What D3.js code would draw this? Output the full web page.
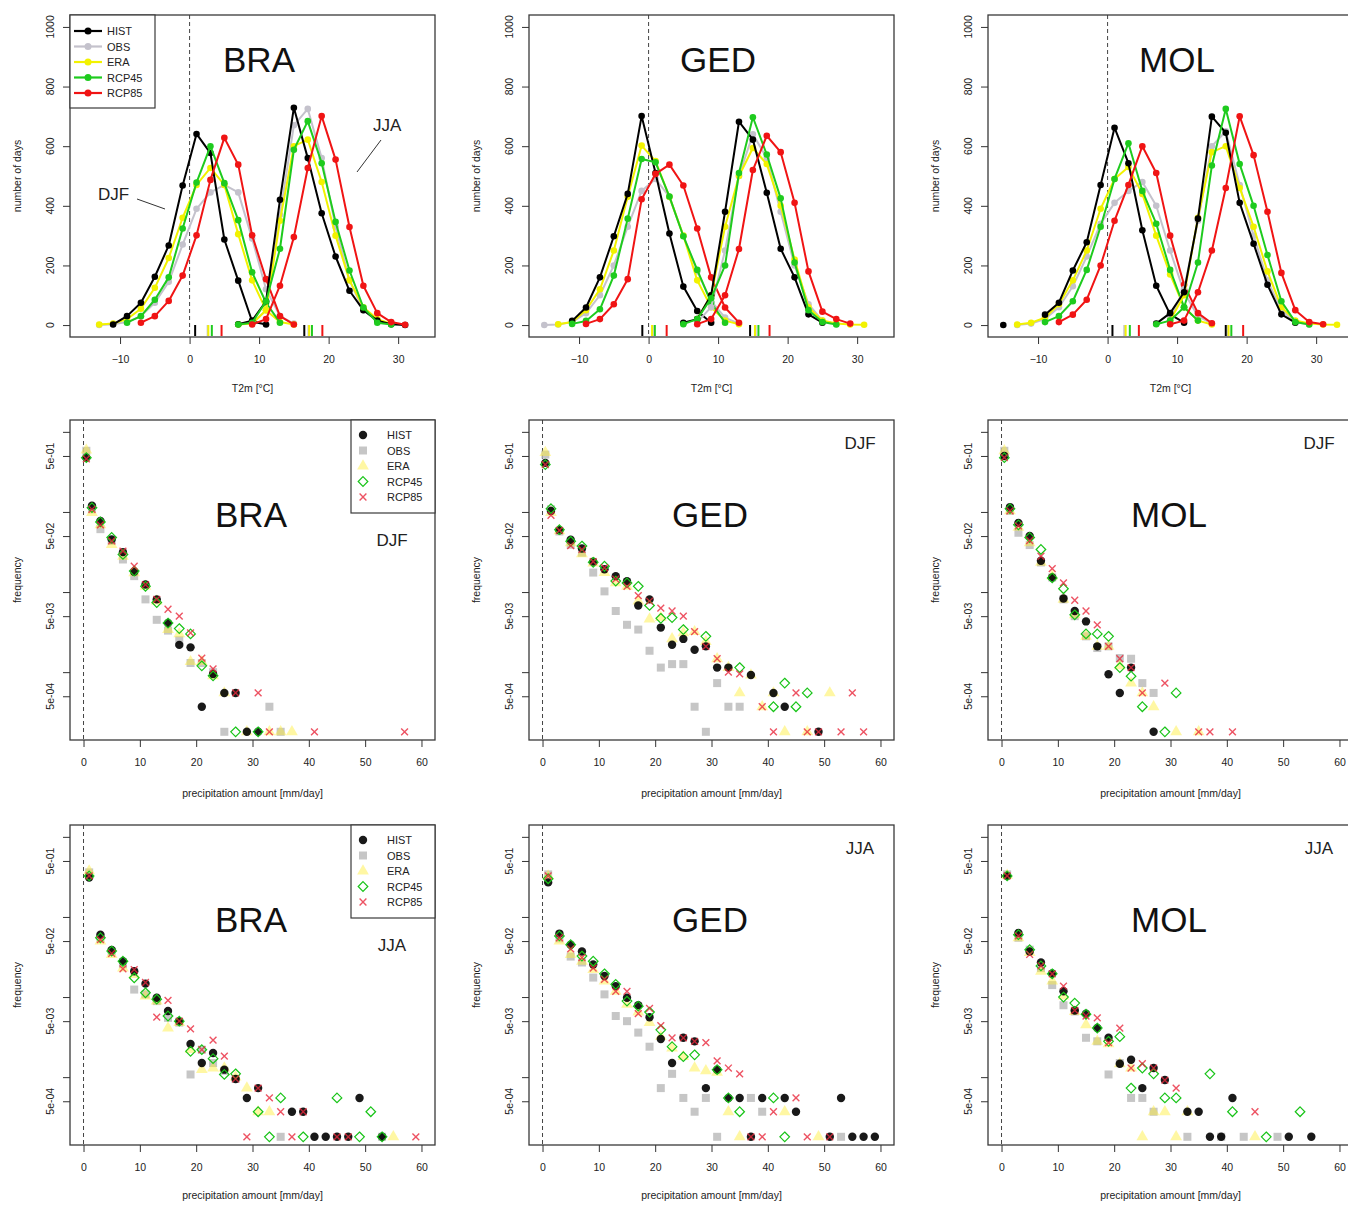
<!DOCTYPE html>
<html>
<head>
<meta charset="utf-8">
<script src="https://cdn.jsdelivr.net/npm/d3@7"></script>
<style>
  html, body { margin: 0; padding: 0; background: #fff; }
  svg { display: block; font-family: "Liberation Sans", Arial, Helvetica, sans-serif; }
</style>
</head>
<body>
<svg id="fig" width="1348" height="1205"></svg>
<script>
// ---------------------------------------------------------------------------
// Data
// ---------------------------------------------------------------------------
const SITES = ["BRA", "GED", "MOL"];
const SEASONS = ["DJF", "JJA"];
const SERIES = ["HIST", "OBS", "ERA", "RCP45", "RCP85"];

const T_TICKS = [-10, 0, 10, 20, 30];
const DAYS_TICKS = [0, 200, 400, 600, 800, 1000];
const P_TICKS = [0, 10, 20, 30, 40, 50, 60];
const FREQ_TICKS = [1, 0.5, 0.1, 0.05, 0.01, 0.005, 0.001, 0.0005];
const FREQ_LABELS = ["", "5e-01", "", "5e-02", "", "5e-03", "", "5e-04"];

// Daily mean 2 m temperature histograms: [bin centre (°C), number of days]
const BRA_DJF_HIST  = [[-11,2],[-9,30],[-7,75],[-5,162],[-3,267],[-1,468],[1,641],[3,577],[5,287],[7,149],[9,12],[11,2]];
const BRA_DJF_OBS   = [[-13,0],[-11,3],[-9,10],[-7,30],[-5,75],[-3,145],[-1,270],[1,390],[3,445],[5,470],[7,445],[9,290],[11,120],[13,30],[15,5]];
const BRA_DJF_ERA   = [[-13,2],[-11,5],[-9,20],[-7,55],[-5,125],[-3,225],[-1,360],[1,470],[3,527],[5,470],[7,305],[9,150],[11,50],[13,10],[15,2]];
const BRA_DJF_RCP45 = [[-9,8],[-7,30],[-5,85],[-3,160],[-1,324],[1,478],[3,600],[5,476],[7,352],[9,177],[11,75],[13,8]];
const BRA_DJF_RCP85 = [[-7,8],[-5,30],[-3,81],[-1,166],[1,301],[3,487],[5,628],[7,538],[9,301],[11,154],[13,30],[15,2]];
const BRA_JJA_HIST  = [[7,3],[9,15],[11,80],[13,420],[15,729],[17,560],[19,375],[21,230],[23,115],[25,50],[27,15],[29,3],[31,0]];
const BRA_JJA_OBS   = [[9,5],[11,50],[13,370],[15,670],[17,725],[19,560],[21,330],[23,150],[25,50],[27,15],[29,3]];
const BRA_JJA_ERA   = [[7,2],[9,5],[11,50],[13,350],[15,600],[17,622],[19,480],[21,300],[23,150],[25,60],[27,20],[29,5]];
const BRA_JJA_RCP45 = [[7,2],[9,8],[11,80],[13,256],[15,588],[17,684],[19,543],[21,346],[23,183],[25,59],[27,8],[29,2]];
const BRA_JJA_RCP85 = [[9,2],[11,20],[13,132],[15,295],[17,527],[19,701],[21,555],[23,329],[25,132],[27,40],[29,10],[31,1]];

const GED_DJF_HIST  = [[-11,14],[-9,59],[-7,160],[-5,298],[-3,440],[-1,701],[1,510],[3,307],[5,129],[7,47],[9,8]];
const GED_DJF_OBS   = [[-15,0],[-13,2],[-11,10],[-9,40],[-7,100],[-5,200],[-3,330],[-1,450],[1,490],[3,430],[5,300],[7,180],[9,80],[11,25],[13,5]];
const GED_DJF_ERA   = [[-13,3],[-11,10],[-9,50],[-7,120],[-5,250],[-3,430],[-1,602],[1,550],[3,430],[5,300],[7,150],[9,60],[11,15],[13,3]];
const GED_DJF_RCP45 = [[-11,4],[-9,14],[-7,53],[-5,166],[-3,357],[-1,557],[1,546],[3,431],[5,298],[7,185],[9,75],[11,8]];
const GED_DJF_RCP85 = [[-9,4],[-7,20],[-5,70],[-3,154],[-1,422],[1,507],[3,538],[5,468],[7,324],[9,160],[11,59],[13,8]];
const GED_JJA_HIST  = [[5,8],[7,20],[9,100],[11,380],[13,682],[15,622],[17,444],[19,256],[21,160],[23,36],[25,8]];
const GED_JJA_OBS   = [[7,10],[9,60],[11,250],[13,500],[15,640],[17,560],[19,380],[21,200],[23,70],[25,15],[27,3]];
const GED_JJA_ERA   = [[7,20],[9,100],[11,330],[13,500],[15,594],[17,540],[19,400],[21,220],[23,60],[25,15],[27,5],[29,2],[31,1]];
const GED_JJA_RCP45 = [[5,3],[7,20],[9,90],[11,200],[13,510],[15,697],[17,572],[19,425],[21,210],[23,50],[25,10],[27,2]];
const GED_JJA_RCP85 = [[7,3],[9,20],[11,100],[13,255],[15,520],[17,635],[19,580],[21,410],[23,180],[25,45],[27,20],[29,5]];

const MOL_DJF_HIST  = [[-15,0],[-13,null],[-9,35],[-7,75],[-5,183],[-3,278],[-1,470],[1,662],[3,543],[5,318],[7,132],[9,36],[11,8]];
const MOL_DJF_OBS   = [[-13,0],[-11,5],[-9,20],[-7,60],[-5,130],[-3,230],[-1,340],[1,410],[3,450],[5,480],[7,400],[9,250],[11,110],[13,30],[15,5]];
const MOL_DJF_ERA   = [[-13,2],[-11,8],[-9,25],[-7,70],[-5,150],[-3,250],[-1,390],[1,490],[3,530],[5,440],[7,300],[9,170],[11,60],[13,15],[15,2]];
const MOL_DJF_RCP45 = [[-9,10],[-7,30],[-5,80],[-3,185],[-1,330],[1,490],[3,610],[5,450],[7,340],[9,185],[11,60],[13,15]];
const MOL_DJF_RCP85 = [[-7,10],[-5,35],[-3,85],[-1,200],[1,350],[3,470],[5,600],[7,510],[9,300],[11,135],[13,40],[15,6]];
const MOL_JJA_HIST  = [[7,5],[9,40],[11,110],[13,357],[15,699],[17,645],[19,410],[21,273],[23,135],[25,36],[27,8]];
const MOL_JJA_OBS   = [[9,20],[11,120],[13,350],[15,600],[17,650],[19,470],[21,300],[23,150],[25,50],[27,10],[29,2]];
const MOL_JJA_ERA   = [[9,15],[11,100],[13,360],[15,580],[17,600],[19,460],[21,330],[23,180],[25,60],[27,15],[29,5],[31,2],[33,1]];
const MOL_JJA_RCP45 = [[7,3],[9,15],[11,60],[13,210],[15,535],[17,725],[19,540],[21,400],[23,235],[25,80],[27,10],[29,2]];
const MOL_JJA_RCP85 = [[9,3],[11,15],[13,110],[15,250],[17,460],[19,700],[21,570],[23,380],[25,175],[27,50],[29,10],[31,3]];

// Seasonal mean temperature of each series (HIST, OBS, ERA, RCP45, RCP85), °C
const BRA_DJF_MEANS = [0.8, 2.6, 2.7, 3.2, 4.6];
const BRA_JJA_MEANS = [16.5, 17.1, 17.2, 17.6, 19.1];
const GED_DJF_MEANS = [-0.9, 0.6, 0.5, 0.9, 2.6];
const GED_JJA_MEANS = [14.6, 15.4, 15.3, 15.8, 17.4];
const MOL_DJF_MEANS = [0.7, 2.4, 2.6, 3.2, 4.5];
const MOL_JJA_MEANS = [17.0, 17.3, 17.4, 17.8, 19.5];

// Daily precipitation distributions: [bin centre (mm/day), relative frequency]
const BRA_PDJF_HIST  = [[0.5,0.476],[1.5,0.12],[3,0.077],[5,0.0455],[7,0.0315],[9,0.0179],[11,0.0124],[13,0.0081],[15,0.0041],[17,0.00219],[19,0.00204],[21,0.00037],[23,0.00095],[25,0.00055],[27,0.00055],[29,0.00018],[31,0.00018]];
const BRA_PDJF_OBS   = [[0.5,0.58],[1.5,0.108],[3,0.061],[5,0.0435],[7,0.0255],[9,0.0158],[11,0.0081],[13,0.0045],[15,0.0033],[17,0.0025],[19,0.0013],[21,0.0013],[23,0.001],[25,0.00018],[33,0.00037],[35,0.00018]];
const BRA_PDJF_ERA   = [[0.5,0.59],[1.5,0.098],[3,0.069],[5,0.039],[7,0.028],[9,0.0174],[11,0.0118],[13,0.0077],[15,0.0034],[17,0.003],[19,0.00135],[21,0.00135],[23,0.0009],[25,0.00055],[29,0.00018],[33,0.00018],[35,0.00018],[37,0.00018]];
const BRA_PDJF_RCP45 = [[0.5,0.476],[1.5,0.113],[3,0.075],[5,0.048],[7,0.0295],[9,0.0183],[11,0.0118],[13,0.0074],[15,0.0041],[17,0.0035],[19,0.003],[21,0.0012],[23,0.0009],[27,0.00018],[31,0.00018]];
const BRA_PDJF_RCP85 = [[0.5,0.46],[1.5,0.108],[3,0.069],[5,0.0435],[7,0.0325],[9,0.021],[11,0.0124],[13,0.0081],[15,0.0061],[17,0.005],[19,0.0031],[21,0.0015],[23,0.0011],[27,0.00055],[31,0.00055],[33,0.00018],[41,0.00018],[57,0.00018]];

const GED_PDJF_HIST  = [[0.5,0.41],[1.5,0.103],[3,0.059],[5,0.045],[7,0.035],[9,0.024],[11,0.0193],[13,0.0158],[15,0.0137],[17,0.0068],[19,0.0081],[21,0.0036],[23,0.0022],[25,0.0026],[27,0.0019],[29,0.0021],[31,0.00114],[33,0.00114],[37,0.00092],[41,0.00055],[43,0.00037],[49,0.00018]];
const GED_PDJF_OBS   = [[0.5,0.52],[1.5,0.108],[3,0.057],[5,0.039],[7,0.031],[9,0.0175],[11,0.0102],[13,0.0058],[15,0.0039],[17,0.0034],[19,0.00185],[21,0.00114],[23,0.00126],[25,0.00126],[27,0.00037],[29,0.00018],[31,0.00073],[33,0.00037],[35,0.00037]];
const GED_PDJF_ERA   = [[0.5,0.55],[1.5,0.098],[3,0.058],[5,0.041],[7,0.03],[9,0.023],[11,0.0175],[13,0.013],[15,0.0118],[17,0.0077],[19,0.0046],[21,0.0048],[23,0.0026],[25,0.0031],[27,0.0032],[29,0.0024],[31,0.00147],[33,0.00114],[35,0.00055],[37,0.00092],[39,0.00037],[41,0.00055],[43,0.00018],[47,0.00018],[51,0.00055]];
const GED_PDJF_RCP45 = [[0.5,0.39],[1.5,0.11],[3,0.06],[5,0.043],[7,0.0375],[9,0.0235],[11,0.021],[13,0.0137],[15,0.013],[17,0.0118],[19,0.0068],[21,0.0047],[23,0.0048],[25,0.0034],[29,0.0028],[35,0.00114],[41,0.00037],[43,0.00073],[45,0.00037],[47,0.00055]];
const GED_PDJF_RCP85 = [[0.5,0.39],[1.5,0.091],[3,0.059],[5,0.038],[7,0.034],[9,0.024],[11,0.0201],[13,0.0145],[15,0.0118],[17,0.009],[19,0.0077],[21,0.0063],[23,0.0058],[25,0.005],[27,0.0032],[29,0.0021],[31,0.00147],[33,0.001],[35,0.00095],[39,0.00037],[41,0.00018],[45,0.00055],[47,0.00018],[49,0.00018],[53,0.00018],[55,0.00055],[57,0.00018]];

const MOL_PDJF_HIST  = [[0.5,0.5],[1.5,0.115],[3,0.073],[5,0.05],[7,0.0246],[9,0.0152],[11,0.0083],[13,0.0058],[15,0.0043],[17,0.0021],[19,0.00094],[21,0.00055],[23,0.00114],[27,0.00018]];
const MOL_PDJF_OBS   = [[0.5,0.58],[1.5,0.103],[3,0.055],[5,0.0386],[7,0.0234],[9,0.0152],[11,0.0081],[13,0.005],[15,0.0028],[17,0.002],[19,0.0021],[21,0.0015],[23,0.00147],[25,0.00073],[27,0.00055]];
const MOL_PDJF_ERA   = [[0.5,0.58],[1.5,0.103],[3,0.064],[5,0.041],[7,0.0234],[9,0.0158],[11,0.0081],[13,0.0052],[15,0.0028],[17,0.0021],[19,0.0021],[21,0.0012],[23,0.00073],[25,0.00055],[27,0.00037],[31,0.00018],[35,0.00018]];
const MOL_PDJF_RCP45 = [[0.5,0.476],[1.5,0.11],[3,0.069],[5,0.048],[7,0.034],[9,0.015],[11,0.011],[13,0.0052],[15,0.003],[17,0.003],[19,0.0028],[21,0.00114],[23,0.00089],[25,0.00037],[29,0.00018],[31,0.00055]];
const MOL_PDJF_RCP85 = [[0.5,0.476],[1.5,0.103],[3,0.067],[5,0.044],[7,0.028],[9,0.0196],[11,0.013],[13,0.0079],[15,0.0058],[17,0.0039],[19,0.0021],[21,0.00147],[23,0.00114],[25,0.00055],[29,0.00073],[35,0.00018],[37,0.00018],[41,0.00018]];

const BRA_PJJA_HIST  = [[1,0.31],[3,0.06],[5,0.0386],[7,0.028],[9,0.021],[11,0.0147],[13,0.0098],[15,0.0067],[17,0.005],[19,0.0026],[21,0.0015],[23,0.002],[25,0.00124],[27,0.00095],[29,0.00055],[31,0.00073],[37,0.00037],[39,0.00037],[41,0.00018],[43,0.00018],[45,0.00018],[47,0.00018],[49,0.00055],[53,0.00018]];
const BRA_PJJA_OBS   = [[1,0.36],[3,0.054],[5,0.037],[7,0.0257],[9,0.0124],[11,0.0108],[13,0.0089],[15,0.0055],[17,0.0048],[19,0.00108],[21,0.0022],[23,0.0015],[25,0.0012],[27,0.00095],[35,0.00018],[53,0.00018]];
const BRA_PJJA_ERA   = [[1,0.375],[3,0.05],[5,0.034],[7,0.023],[9,0.019],[11,0.0103],[13,0.0089],[15,0.0041],[17,0.0048],[19,0.0022],[21,0.00124],[23,0.0013],[25,0.0013],[27,0.001],[29,0.00073],[31,0.00037],[33,0.00037],[55,0.00018]];
const BRA_PJJA_RCP45 = [[1,0.325],[3,0.055],[5,0.0375],[7,0.028],[9,0.0174],[11,0.0113],[13,0.0094],[15,0.0058],[17,0.005],[19,0.0021],[21,0.0022],[23,0.0017],[25,0.00108],[27,0.0011],[31,0.00037],[33,0.00018],[35,0.00055],[39,0.00018],[45,0.00055],[49,0.00018],[51,0.00037],[53,0.00018]];
const BRA_PJJA_RCP85 = [[1,0.325],[3,0.052],[5,0.035],[7,0.0225],[9,0.022],[11,0.0152],[13,0.0056],[15,0.0091],[17,0.005],[19,0.004],[21,0.0022],[23,0.0029],[25,0.00183],[27,0.00095],[29,0.00018],[31,0.00073],[33,0.00055],[35,0.00037],[37,0.00018],[39,0.00037],[45,0.00018],[47,0.00018],[59,0.00018]];

const GED_PJJA_HIST  = [[1,0.27],[3,0.062],[5,0.045],[7,0.037],[9,0.0255],[11,0.0183],[13,0.0137],[15,0.0098],[17,0.0079],[19,0.0056],[21,0.003],[23,0.0015],[25,0.0031],[27,0.0028],[29,0.00073],[31,0.00124],[33,0.00055],[35,0.00055],[37,0.00018],[39,0.00055],[43,0.00055],[45,0.00037],[51,0.00018],[53,0.00055],[55,0.00018],[57,0.00018],[59,0.00018]];
const GED_PJJA_OBS   = [[1,0.34],[3,0.054],[5,0.032],[7,0.027],[9,0.0175],[11,0.0108],[13,0.0058],[15,0.005],[17,0.0036],[19,0.0024],[21,0.00073],[23,0.0011],[25,0.00055],[27,0.00037],[29,0.00055],[31,0.00018],[37,0.00055],[39,0.00037],[53,0.00018]];
const GED_PJJA_ERA   = [[1,0.325],[3,0.05],[5,0.034],[7,0.028],[9,0.022],[11,0.0158],[13,0.0118],[15,0.0081],[17,0.0065],[19,0.0048],[21,0.0032],[23,0.0023],[25,0.0018],[27,0.0013],[29,0.0012],[31,0.00115],[33,0.00037],[35,0.00018],[43,0.00037],[49,0.00018]];
const GED_PJJA_RCP45 = [[1,0.3],[3,0.058],[5,0.045],[7,0.0325],[9,0.028],[11,0.0195],[13,0.0144],[15,0.0089],[17,0.0077],[19,0.0065],[21,0.0039],[23,0.0024],[25,0.0018],[27,0.0019],[31,0.00124],[33,0.00055],[35,0.00037],[41,0.00055],[43,0.00018]];
const GED_PJJA_RCP85 = [[1,0.325],[3,0.055],[5,0.04],[7,0.031],[9,0.023],[11,0.0166],[13,0.0118],[15,0.0118],[17,0.0062],[19,0.0072],[21,0.0044],[23,0.0031],[25,0.0031],[27,0.0028],[29,0.0027],[31,0.0016],[33,0.0013],[35,0.0011],[37,0.00018],[39,0.00018],[41,0.00037],[45,0.00055],[47,0.00018],[51,0.00018]];

const MOL_PJJA_HIST  = [[1,0.325],[3,0.063],[5,0.037],[7,0.027],[9,0.0197],[11,0.0118],[13,0.0068],[15,0.0062],[17,0.0041],[19,0.0031],[21,0.00147],[23,0.00165],[25,0.00073],[27,0.0013],[29,0.00092],[33,0.00037],[35,0.00037],[37,0.00018],[39,0.00018],[41,0.00055],[51,0.00018],[55,0.00018]];
const MOL_PJJA_OBS   = [[1,0.34],[3,0.055],[5,0.039],[7,0.023],[9,0.0141],[11,0.0079],[13,0.0066],[15,0.0031],[17,0.0028],[19,0.00108],[21,0.0015],[23,0.00055],[25,0.00055],[27,0.00037],[33,0.00018],[39,0.00018],[43,0.00018],[49,0.00018]];
const MOL_PJJA_ERA   = [[1,0.33],[3,0.055],[5,0.036],[7,0.021],[9,0.0158],[11,0.0103],[13,0.0066],[15,0.0045],[17,0.0028],[19,0.0026],[21,0.00147],[23,0.0013],[25,0.00018],[27,0.00037],[29,0.00037],[31,0.00018],[33,0.00037],[45,0.00018]];
const MOL_PJJA_RCP45 = [[1,0.325],[3,0.06],[5,0.039],[7,0.0245],[9,0.0195],[11,0.01],[13,0.0084],[15,0.0061],[17,0.0041],[19,0.0028],[21,0.0032],[23,0.00073],[25,0.0013],[27,0.0011],[29,0.00055],[31,0.00055],[37,0.0011],[41,0.00037],[47,0.00018],[53,0.00037]];
const MOL_PJJA_RCP85 = [[1,0.325],[3,0.058],[5,0.034],[7,0.0245],[9,0.0195],[11,0.0137],[13,0.0068],[15,0.0058],[17,0.0055],[19,0.0027],[21,0.0041],[23,0.0013],[25,0.00147],[27,0.0013],[29,0.00092],[31,0.00073],[45,0.00037]];

// Lookup tables assembled from the arrays above
const TEMP = {
  BRA: { DJF: [BRA_DJF_HIST, BRA_DJF_OBS, BRA_DJF_ERA, BRA_DJF_RCP45, BRA_DJF_RCP85],
         JJA: [BRA_JJA_HIST, BRA_JJA_OBS, BRA_JJA_ERA, BRA_JJA_RCP45, BRA_JJA_RCP85] },
  GED: { DJF: [GED_DJF_HIST, GED_DJF_OBS, GED_DJF_ERA, GED_DJF_RCP45, GED_DJF_RCP85],
         JJA: [GED_JJA_HIST, GED_JJA_OBS, GED_JJA_ERA, GED_JJA_RCP45, GED_JJA_RCP85] },
  MOL: { DJF: [MOL_DJF_HIST, MOL_DJF_OBS, MOL_DJF_ERA, MOL_DJF_RCP45, MOL_DJF_RCP85],
         JJA: [MOL_JJA_HIST, MOL_JJA_OBS, MOL_JJA_ERA, MOL_JJA_RCP45, MOL_JJA_RCP85] }
};
const MEANS = {
  BRA: { DJF: BRA_DJF_MEANS, JJA: BRA_JJA_MEANS },
  GED: { DJF: GED_DJF_MEANS, JJA: GED_JJA_MEANS },
  MOL: { DJF: MOL_DJF_MEANS, JJA: MOL_JJA_MEANS }
};
const PRECIP = {
  DJF: {
    BRA: [BRA_PDJF_HIST, BRA_PDJF_OBS, BRA_PDJF_ERA, BRA_PDJF_RCP45, BRA_PDJF_RCP85],
    GED: [GED_PDJF_HIST, GED_PDJF_OBS, GED_PDJF_ERA, GED_PDJF_RCP45, GED_PDJF_RCP85],
    MOL: [MOL_PDJF_HIST, MOL_PDJF_OBS, MOL_PDJF_ERA, MOL_PDJF_RCP45, MOL_PDJF_RCP85]
  },
  JJA: {
    BRA: [BRA_PJJA_HIST, BRA_PJJA_OBS, BRA_PJJA_ERA, BRA_PJJA_RCP45, BRA_PJJA_RCP85],
    GED: [GED_PJJA_HIST, GED_PJJA_OBS, GED_PJJA_ERA, GED_PJJA_RCP45, GED_PJJA_RCP85],
    MOL: [MOL_PJJA_HIST, MOL_PJJA_OBS, MOL_PJJA_ERA, MOL_PJJA_RCP45, MOL_PJJA_RCP85]
  }
};

// ---------------------------------------------------------------------------
// Layout and style
// ---------------------------------------------------------------------------
const COL_LEFT = [70, 529, 988];
const BOX_W = 365;
const ROWS = [
  { top: 15,  bottom: 337 },
  { top: 420, bottom: 740 },
  { top: 825, bottom: 1145 }
];
const LINE_COLORS = ["#000000", "#c4c2cc", "#f2f200", "#1ecb1e", "#f01414"];
const INK = "#222";
const DRAW_ORDER = [1, 2, 0, 3, 4]; // OBS, ERA, HIST, RCP45, RCP85

const svg = d3.select("#fig");

function frame(g, left, top, bottom) {
  g.append("rect")
    .attr("x", left).attr("y", top)
    .attr("width", BOX_W).attr("height", bottom - top)
    .attr("fill", "none").attr("stroke", "#3a3a3a").attr("stroke-width", 1.3);
}

function styleAxis(sel) {
  sel.select(".domain").remove();
  sel.selectAll(".tick line").attr("stroke", "#333").attr("stroke-width", 1);
  sel.selectAll(".tick text").attr("fill", INK).attr("font-size", 10.5)
    .attr("font-family", '"Liberation Sans", Arial, sans-serif');
}

function yLabels(g, left, y, values, labels) {
  values.forEach((v, i) => {
    if (!labels[i]) return;
    const px = left - 16, py = y(v);
    g.append("text")
      .attr("x", px).attr("y", py)
      .attr("transform", `rotate(-90,${px},${py})`)
      .attr("text-anchor", "middle")
      .attr("font-size", 10.5).attr("fill", INK)
      .text(labels[i]);
  });
}

function axisTitles(g, left, top, bottom, xTitle, yTitle, xTitleY) {
  g.append("text")
    .attr("x", left + BOX_W / 2).attr("y", xTitleY)
    .attr("text-anchor", "middle").attr("font-size", 10.5).attr("fill", INK)
    .text(xTitle);
  const cy = (top + bottom) / 2, cx = left - 49;
  g.append("text")
    .attr("x", cx).attr("y", cy)
    .attr("transform", `rotate(-90,${cx},${cy})`)
    .attr("text-anchor", "middle").attr("font-size", 10.5).attr("fill", INK)
    .text(yTitle);
}

function siteLabel(g, x, y, text) {
  g.append("text").attr("x", x).attr("y", y)
    .attr("text-anchor", "middle").attr("font-size", 35).attr("fill", "#111")
    .text(text);
}

// ---------------------------------------------------------------------------
// Temperature panels (top row)
// ---------------------------------------------------------------------------
function drawTemperature(ci) {
  const site = SITES[ci];
  const left = COL_LEFT[ci], { top, bottom } = ROWS[0];
  const g = svg.append("g");
  const x = d3.scaleLinear().domain([-17.2, 35.3]).range([left, left + BOX_W]);
  const y = d3.scaleLinear().domain([-40, 1040]).range([bottom, top]);

  g.append("line")
    .attr("x1", x(0)).attr("x2", x(0)).attr("y1", top).attr("y2", bottom)
    .attr("stroke", "#444").attr("stroke-dasharray", "4,3").attr("stroke-width", 1);

  // rug of seasonal means
  SEASONS.forEach(season => {
    DRAW_ORDER.forEach(si => {
      const m = MEANS[site][season][si];
      g.append("line")
        .attr("x1", x(m)).attr("x2", x(m))
        .attr("y1", bottom - 1).attr("y2", bottom - 12)
        .attr("stroke", LINE_COLORS[si]).attr("stroke-width", 2);
    });
  });

  const line = d3.line().defined(d => d[1] != null).x(d => x(d[0])).y(d => y(d[1]));
  SEASONS.forEach(season => {
    DRAW_ORDER.forEach(si => {
      const data = TEMP[site][season][si];
      g.append("path").datum(data)
        .attr("d", line).attr("fill", "none")
        .attr("stroke", LINE_COLORS[si]).attr("stroke-width", 2)
        .attr("stroke-linejoin", "round");
      g.selectAll(null).data(data.filter(d => d[1] != null)).enter()
        .append("circle")
        .attr("cx", d => x(d[0])).attr("cy", d => y(d[1])).attr("r", 3.3)
        .attr("fill", LINE_COLORS[si]);
    });
  });

  frame(g, left, top, bottom);

  const gx = g.append("g").attr("transform", `translate(0,${bottom})`)
    .call(d3.axisBottom(x).tickValues(T_TICKS).tickSize(7).tickPadding(12)
      .tickFormat(d => d < 0 ? "\u2212" + Math.abs(d) : d));
  styleAxis(gx);
  const gy = g.append("g").attr("transform", `translate(${left},0)`)
    .call(d3.axisLeft(y).tickValues(DAYS_TICKS).tickSize(7).tickFormat(""));
  styleAxis(gy);
  yLabels(g, left, y, DAYS_TICKS, DAYS_TICKS.map(String));
  axisTitles(g, left, top, bottom, "T2m [\u00B0C]", "number of days", 392);

  siteLabel(g, left + 189, top + 57, site);

  if (ci === 0) {
    // legend
    const lg = g.append("g");
    lg.append("rect").attr("x", left).attr("y", top)
      .attr("width", 85).attr("height", 93)
      .attr("fill", "#fff").attr("stroke", "#3a3a3a").attr("stroke-width", 1.2);
    SERIES.forEach((name, i) => {
      const ry = top + 16 + i * 15.5;
      lg.append("line").attr("x1", left + 4).attr("x2", left + 32)
        .attr("y1", ry).attr("y2", ry)
        .attr("stroke", LINE_COLORS[i]).attr("stroke-width", 2.2);
      lg.append("circle").attr("cx", left + 18).attr("cy", ry).attr("r", 3.5)
        .attr("fill", LINE_COLORS[i]);
      lg.append("text").attr("x", left + 37).attr("y", ry + 4)
        .attr("font-size", 11).attr("fill", INK).text(name);
    });
    // season annotations
    g.append("text").attr("x", 98).attr("y", 200).attr("font-size", 17)
      .attr("fill", INK).text("DJF");
    g.append("line").attr("x1", 137).attr("y1", 199).attr("x2", 165).attr("y2", 209)
      .attr("stroke", "#333").attr("stroke-width", 1);
    g.append("text").attr("x", 373).attr("y", 131).attr("font-size", 17)
      .attr("fill", INK).text("JJA");
    g.append("line").attr("x1", 381).attr("y1", 140).attr("x2", 357).attr("y2", 172)
      .attr("stroke", "#333").attr("stroke-width", 1);
  }
}

// ---------------------------------------------------------------------------
// Precipitation panels (middle and bottom rows)
// ---------------------------------------------------------------------------
const SYMBOLS = [
  { kind: "dot",     color: "#000000", opacity: 0.9 },
  { kind: "square",  color: "#b8b8b8", opacity: 0.8 },
  { kind: "tri",     color: "#ffee33", opacity: 0.45 },
  { kind: "diamond", color: "#18c418", opacity: 1 },
  { kind: "cross",   color: "#e8283c", opacity: 0.8 }
];

function drawSymbol(g, cx, cy, s) {
  if (s.kind === "dot") {
    g.append("circle").attr("cx", cx).attr("cy", cy).attr("r", 4.2)
      .attr("fill", s.color).attr("fill-opacity", s.opacity);
  } else if (s.kind === "square") {
    g.append("rect").attr("x", cx - 4).attr("y", cy - 4).attr("width", 8).attr("height", 8)
      .attr("fill", s.color).attr("fill-opacity", s.opacity);
  } else if (s.kind === "tri") {
    g.append("path").attr("transform", `translate(${cx},${cy})`)
      .attr("d", d3.symbol().type(d3.symbolTriangle).size(60)())
      .attr("fill", s.color).attr("fill-opacity", s.opacity);
  } else if (s.kind === "diamond") {
    const r = 4.8;
    g.append("path")
      .attr("d", `M${cx},${cy - r}L${cx + r},${cy}L${cx},${cy + r}L${cx - r},${cy}Z`)
      .attr("fill", "none").attr("stroke", s.color).attr("stroke-width", 1.2);
  } else {
    const r = 3.4;
    g.append("path")
      .attr("d", `M${cx - r},${cy - r}L${cx + r},${cy + r}M${cx - r},${cy + r}L${cx + r},${cy - r}`)
      .attr("stroke", s.color).attr("stroke-width", 1.4).attr("stroke-opacity", s.opacity);
  }
}

function drawPrecip(ri, ci) {
  const season = ri === 1 ? "DJF" : "JJA";
  const site = SITES[ci];
  const left = COL_LEFT[ci], { top, bottom } = ROWS[ri];
  const g = svg.append("g");
  const x = d3.scaleLinear().domain([-2.4, 62.4]).range([left, left + BOX_W]);
  const y = d3.scaleLog().domain([1.422e-4, 1.406]).range([bottom, top]);

  g.append("line")
    .attr("x1", x(0)).attr("x2", x(0)).attr("y1", top).attr("y2", bottom)
    .attr("stroke", "#444").attr("stroke-dasharray", "4,3").attr("stroke-width", 1);

  DRAW_ORDER.forEach(si => {
    PRECIP[season][site][si].forEach(d => drawSymbol(g, x(d[0]), y(d[1]), SYMBOLS[si]));
  });

  frame(g, left, top, bottom);

  const gx = g.append("g").attr("transform", `translate(0,${bottom})`)
    .call(d3.axisBottom(x).tickValues(P_TICKS).tickSize(7).tickPadding(12));
  styleAxis(gx);
  const gy = g.append("g").attr("transform", `translate(${left},0)`)
    .call(d3.axisLeft(y).tickValues(FREQ_TICKS).tickSize(7).tickFormat(""));
  styleAxis(gy);
  yLabels(g, left, y, FREQ_TICKS, FREQ_LABELS);
  axisTitles(g, left, top, bottom, "precipitation amount [mm/day]", "frequency",
    ri === 1 ? 797 : 1199);

  siteLabel(g, left + 181, top + 107, site);

  if (ci === 0) {
    g.append("text").attr("x", left + 322).attr("y", top + 126)
      .attr("text-anchor", "middle").attr("font-size", 17).attr("fill", INK).text(season);
    const lg = g.append("g");
    lg.append("rect").attr("x", left + 281).attr("y", top)
      .attr("width", 84).attr("height", 93)
      .attr("fill", "#fff").attr("stroke", "#3a3a3a").attr("stroke-width", 1.2);
    SERIES.forEach((name, i) => {
      const ry = top + 15 + i * 15.5;
      drawSymbol(lg, left + 293, ry, SYMBOLS[i]);
      lg.append("text").attr("x", left + 317).attr("y", ry + 4)
        .attr("font-size", 11).attr("fill", INK).text(name);
    });
  } else {
    g.append("text").attr("x", left + 331).attr("y", top + 29)
      .attr("text-anchor", "middle").attr("font-size", 17).attr("fill", INK).text(season);
  }
}

[0, 1, 2].forEach(ci => drawTemperature(ci));
[1, 2].forEach(ri => [0, 1, 2].forEach(ci => drawPrecip(ri, ci)));
</script>
</body>
</html>
